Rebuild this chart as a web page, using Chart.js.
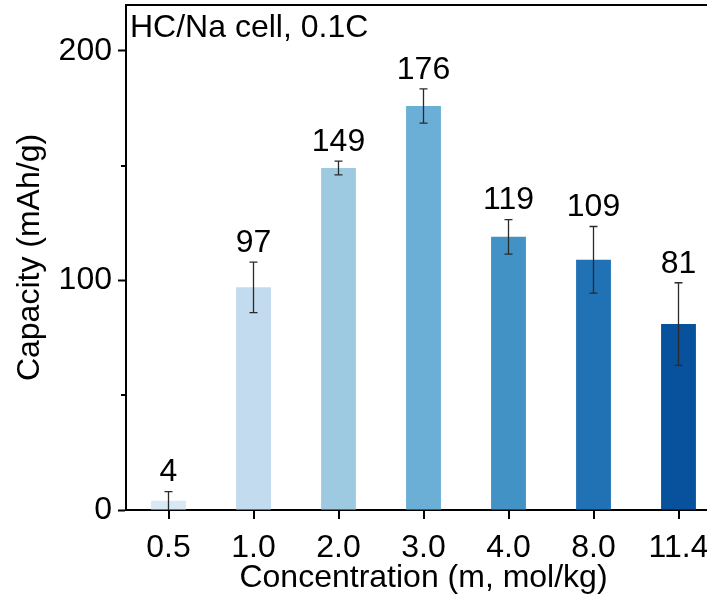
<!DOCTYPE html>
<html>
<head>
<meta charset="utf-8">
<script src="https://cdn.jsdelivr.net/npm/chart.js@4.4.1/dist/chart.umd.min.js"></script>
<style>
  html, body { margin: 0; padding: 0; background: #fff; overflow: hidden; }
  .wrap { width: 707px; height: 598px; overflow: hidden; }
</style>
</head>
<body>
<div class="wrap">
  <canvas id="capChart" width="730" height="598"></canvas>
</div>
<script>
// concentration (m, mol/kg) vs discharge capacity
const concentrations = ['0.5', '1.0', '2.0', '3.0', '4.0', '8.0', '11.4'];
const capacity = [4, 97, 149, 176, 119, 109, 81];
const capacityErr = [4, 11, 3, 7.5, 7.5, 14.5, 18];
const barColors = ['#d9e8f5', '#c3dbee', '#9ecae1', '#6baed6', '#4292c6', '#2171b5', '#08519c'];
const minorTicks = [50, 150];

const FONT = { family: "'Liberation Sans', Arial, sans-serif", size: 32 };

// error bars, value labels, frame and axis ticks
const extras = {
  id: 'extras',
  afterDraw(chart) {
    const ctx = chart.ctx;
    const meta = chart.getDatasetMeta(0);
    const y = chart.scales.y;
    const area = chart.chartArea;

    ctx.save();
    ctx.strokeStyle = '#2a2a2a';
    ctx.lineWidth = 1.3;
    meta.data.forEach((bar, i) => {
      const cx = bar.x;
      const top = y.getPixelForValue(capacity[i] + capacityErr[i]);
      const bot = y.getPixelForValue(Math.max(0, capacity[i] - capacityErr[i]));
      ctx.beginPath();
      ctx.moveTo(cx, top); ctx.lineTo(cx, bot);
      ctx.moveTo(cx - 4, top); ctx.lineTo(cx + 4, top);
      if (capacity[i] - capacityErr[i] > 0) {
        ctx.moveTo(cx - 4, bot); ctx.lineTo(cx + 4, bot);
      }
      ctx.stroke();

      ctx.fillStyle = '#000';
      ctx.font = `${FONT.size}px ${FONT.family}`;
      ctx.textAlign = 'center';
      ctx.textBaseline = 'middle';
      ctx.fillText(String(capacity[i]), cx, top - 19);
    });

    // top and right frame
    ctx.strokeStyle = '#000';
    ctx.lineWidth = 2;
    ctx.beginPath();
    ctx.moveTo(area.left - 1, area.top);
    ctx.lineTo(area.right, area.top);
    ctx.lineTo(area.right, area.bottom);
    ctx.stroke();

    // x ticks under each category
    ctx.fillStyle = '#000';
    meta.data.forEach(bar => {
      const px = Math.round(bar.x);
      ctx.fillRect(px - 1, area.bottom, 2, 9);
    });

    // minor ticks on the y axis
    minorTicks.forEach(v => {
      const py = Math.round(y.getPixelForValue(v));
      ctx.fillRect(area.left - 5, py - 1, 5, 2);
    });

    ctx.font = `${FONT.size}px ${FONT.family}`;
    ctx.textAlign = 'left';
    ctx.textBaseline = 'middle';
    ctx.fillText('HC/Na cell, 0.1C', area.left + 4, area.top + 23);
    ctx.restore();
  }
};

new Chart(document.getElementById('capChart'), {
  type: 'bar',
  data: {
    labels: concentrations,
    datasets: [{
      data: capacity,
      backgroundColor: barColors,
      borderWidth: 0,
      barPercentage: 0.41,
      categoryPercentage: 1
    }]
  },
  options: {
    responsive: false,
    animation: false,
    devicePixelRatio: 1,
    layout: { padding: { top: 5, right: 9, left: 0, bottom: 0 } },
    plugins: { legend: { display: false }, tooltip: { enabled: false } },
    scales: {
      x: {
        grid: { display: true, drawOnChartArea: false, tickLength: 8, tickWidth: 2, tickColor: 'rgba(0,0,0,0)' },
        border: { display: true, color: '#000', width: 2 },
        ticks: { color: '#000', font: FONT, padding: 11, maxRotation: 0 },
        title: { display: true, text: 'Concentration (m, mol/kg)', color: '#000', font: FONT, padding: { top: 0, bottom: 1 } },
        afterFit(scale) {
          scale.height = 88;
          scale.paddingLeft = 0;
          scale.paddingRight = 0;
        }
      },
      y: {
        min: 0,
        max: 220,
        grid: { display: true, drawOnChartArea: false, tickLength: 8, tickWidth: 2, tickColor: '#000' },
        border: { display: true, color: '#000', width: 2 },
        ticks: { stepSize: 100, includeBounds: false, color: '#000', font: FONT, padding: 6 },
        title: { display: true, text: 'Capacity (mAh/g)', color: '#000', font: FONT, padding: { top: 11, bottom: 0 } },
        afterFit(scale) {
          scale.width = 126;
          scale.paddingTop = 0;
          scale.paddingBottom = 0;
        }
      }
    }
  },
  plugins: [extras]
});
</script>
</body>
</html>
